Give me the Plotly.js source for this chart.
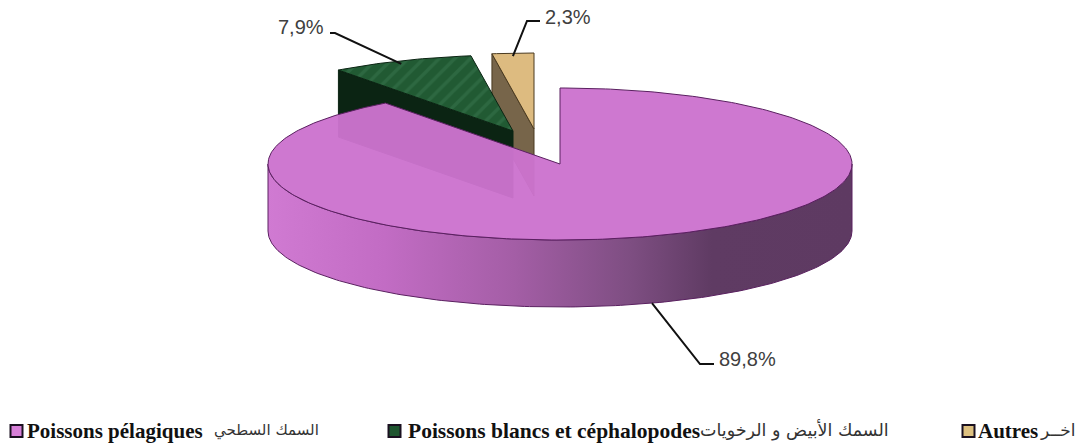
<!DOCTYPE html>
<html><head><meta charset="utf-8">
<script src="https://cdn.plot.ly/plotly-3.0.1.min.js"></script>
<style>html,body{margin:0;padding:0;background:#fff}</style></head>
<body><div id="chart" style="width:1086px;height:448px"></div>
<script>
// Data
const categoriesLatin = ["Poissons pélagiques", "Poissons blancs et céphalopodes", "Autres"];
const categoriesArabic = ["السمك السطحي", "السمك الأبيض و الرخويات", "اخــر"];
const shares = [89.8, 7.9, 2.3];
const valueLabels = ["89,8%", "7,9%", "2,3%"];

// Styling and projection
const topColors = ["#CE78D0", "#1F5630", "#DDBB80"];
const wallColors = ["#5E3A62", "#0B2413", "#77654A"];
const edgeColors = ["#5A2060", "#0B2413", "#4A3A20"];
const swatchColors = ["#D77FD8", "#1F5630", "#DDC080"];
const cx = 560, cy = 164, rx = 292, ry = 76, depth = 67;
const offsets = [[0,0],[-47,-33],[-26,-35]];
const leaderEnds = [[[700,364],[714,364]], [[335,33],[330,33]], [[527,21],[540,21]]];
const labelPos = [[717,359],[276,27],[543,17]];
const legendSwatchX = [16.5, 394.5, 968.5];
const legendLatinX = [25, 406, 976];
const legendLatinSize = [21, 21.5, 21];
const legendArabicRight = [321, 891, 1078];
const legendArabicSize = [15, 17.5, 17];
const legendY = 431;

const pt = (deg, o, dz=0) => {
  const t = deg*Math.PI/180;
  return [cx+o[0]+rx*Math.sin(t), cy+o[1]-ry*Math.cos(t)+dz];
};
function arc(a0, a1, o, dz=0) {
  const n = Math.max(4, Math.ceil(Math.abs(a1-a0)));
  const out = [];
  for (let i=0;i<=n;i++) out.push(pt(a0+(a1-a0)*i/n, o, dz));
  return out;
}
function poly(points, fill, line, extra={}) {
  return Object.assign({
    type:'scatter', mode:'lines', hoverinfo:'skip', showlegend:false,
    x:points.map(p=>p[0]), y:points.map(p=>p[1]),
    fill:'toself', fillcolor:fill, line:{color:line, width:1}
  }, extra);
}

const total = shares.reduce((a,b)=>a+b,0);
let acc = 0;
const slices = shares.map((v,i)=>{
  const a0 = acc/total*360; acc += v; const a1 = acc/total*360;
  return {a0, a1, mid:(a0+a1)/2, o:offsets[i]};
});

const traces = [];
// Autres then white fish, then the main slice on top
[2,1].forEach(i=>{
  const s = slices[i];
  const tip = [cx+s.o[0], cy+s.o[1]];
  const st = pt(s.a0, s.o);
  traces.push(poly([st, tip, [tip[0],tip[1]+depth], [st[0],st[1]+depth], st], wallColors[i], edgeColors[i]));
  const top = [tip].concat(arc(s.a0, s.a1, s.o)).concat([tip]);
  const extra = i===1 ? {fillpattern:{shape:'/', bgcolor:'#215A33', fgcolor:'#4A8A62', fgopacity:0.28, size:11, solidity:0.3}} : {};
  traces.push(poly(top, topColors[i], edgeColors[i], extra));
});
// Pink wall with horizontal shading
const wallTop = arc(90, 270, [0,0]);
const wallBot = arc(270, 90, [0,0], depth);
traces.push(poly(wallTop.concat(wallBot).concat([wallTop[0]]), wallColors[0], edgeColors[0], {
  fillgradient:{type:'horizontal', colorscale:[[0,'#D07AD2'],[0.2,'#C26CC4'],[0.42,'#A45EA6'],[0.62,'#7E4E82'],[0.76,'#5F3B63'],[1,'#5E3A62']]}
}));
// Pink top, slightly translucent so the slices behind ghost through
const p = slices[0], tipP = [cx,cy];
const pinkTop = [tipP].concat(arc(p.a0, p.a1, p.o)).concat([tipP]);
traces.push(poly(pinkTop, 'rgba(204,115,206,0.965)', edgeColors[0]));

// Leader lines
slices.forEach((s,i)=>{
  const start = pt(s.mid, s.o, i===0 ? depth : 3);
  const pts = [start].concat(leaderEnds[i]);
  traces.push({type:'scatter', mode:'lines', hoverinfo:'skip', showlegend:false,
    x:pts.map(q=>q[0]), y:pts.map(q=>q[1]), line:{color:'#111', width:2}});
});
// Legend swatches
traces.push({type:'scatter', mode:'markers', hoverinfo:'skip', showlegend:false,
  x:legendSwatchX, y:legendSwatchX.map(()=>legendY),
  marker:{symbol:'square', size:12, color:swatchColors, line:{color:'#1a1020', width:2}}});

const annotations = [];
valueLabels.forEach((t,i)=>annotations.push({x:labelPos[i][0], y:labelPos[i][1], xref:'x', yref:'y', text:t,
  showarrow:false, xanchor:'left', yanchor:'middle', font:{family:'"Liberation Sans"', size:20, color:'#404040'}}));
categoriesLatin.forEach((t,i)=>annotations.push({x:legendLatinX[i], y:legendY, xref:'x', yref:'y', text:'<b>'+t+'</b>',
  showarrow:false, xanchor:'left', yanchor:'middle', font:{family:'"Liberation Serif"', size:legendLatinSize[i], color:'#111'}}));
categoriesArabic.forEach((t,i)=>annotations.push({x:legendArabicRight[i], y:legendY-1, xref:'x', yref:'y', text:t,
  showarrow:false, xanchor:'right', yanchor:'middle', font:{family:'"DejaVu Sans"', size:legendArabicSize[i], color:'#333'}}));

const layout = {
  width:1086, height:448, margin:{l:0,r:0,t:0,b:0},
  paper_bgcolor:'#fff', plot_bgcolor:'#fff', showlegend:false,
  xaxis:{range:[0,1086], visible:false, fixedrange:true},
  yaxis:{range:[448,0], visible:false, fixedrange:true},
  annotations
};
Plotly.newPlot('chart', traces, layout, {displayModeBar:false, staticPlot:true});
</script></body></html>
